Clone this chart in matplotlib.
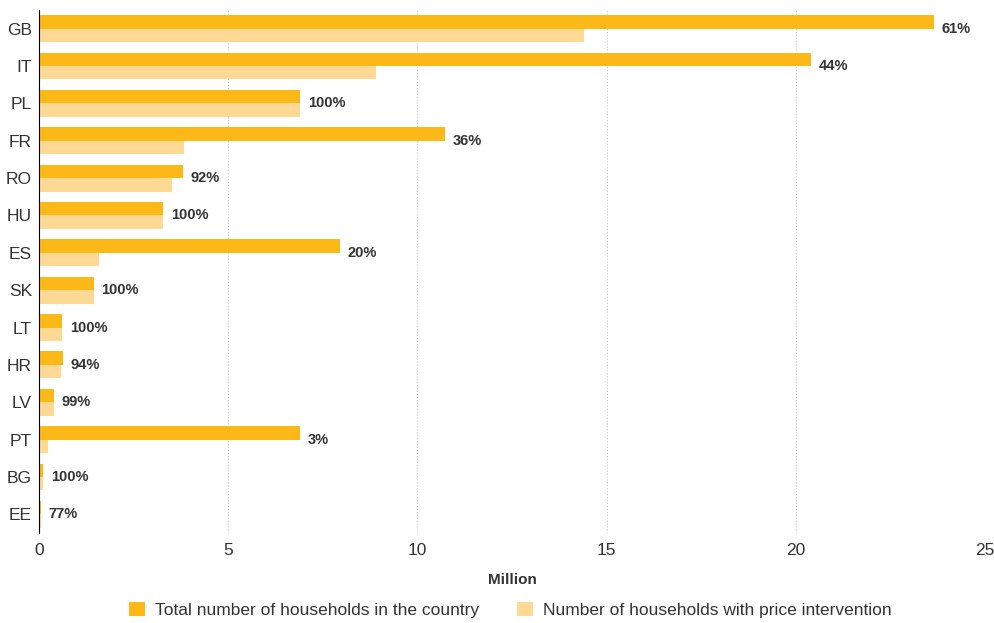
import matplotlib.pyplot as plt
import numpy as np

plt.rcParams['font.family'] = ['Liberation Sans Narrow', 'Liberation Sans', 'DejaVu Sans']

COUNTRIES = ["GB", "IT", "PL", "FR", "RO", "HU", "ES", "SK", "LT", "HR", "LV", "PT", "BG", "EE"]
TOTAL = [23.65, 20.4, 6.9, 10.73, 3.81, 3.28, 7.95, 1.45, 0.61, 0.63, 0.40, 6.9, 0.11, 0.05]
INTERVENTION = [14.4, 8.91, 6.9, 3.83, 3.51, 3.28, 1.59, 1.45, 0.61, 0.59, 0.40, 0.24, 0.11, 0.04]
SHARE = ["61%", "44%", "100%", "36%", "92%", "100%", "20%", "100%", "100%", "94%", "99%", "3%", "100%", "77%"]

C_TOTAL = "#fbb817"
C_INTER = "#fdd995"


def main():
    fig = plt.figure(figsize=(9.95, 6.23), dpi=100)
    ax = fig.add_axes([39 / 995, 1 - 533 / 623, 946 / 995, 523 / 623])

    y = np.arange(len(COUNTRIES))
    h = 0.36
    ax.barh(y - h / 2, TOTAL, height=h, color=C_TOTAL, label="Total number of households in the country", zorder=3)
    ax.barh(y + h / 2, INTERVENTION, height=h, color=C_INTER, label="Number of households with price intervention", zorder=3)

    for i, (v, s) in enumerate(zip(TOTAL, SHARE)):
        ax.text(v + 0.2, i, s, va="center", ha="left", fontsize=10.5, fontweight="bold", color="#333333")

    ax.set_ylim(len(COUNTRIES) - 0.5, -0.5)
    ax.set_xlim(0, 25)
    ax.set_yticks(y)
    ax.set_yticklabels(COUNTRIES, fontsize=12.5, color="#333333")
    ax.set_xticks([0, 5, 10, 15, 20, 25])
    ax.tick_params(axis="x", length=0, labelsize=12.5, labelcolor="#333333", pad=7)
    ax.tick_params(axis="y", length=0, pad=5)
    ax.grid(axis="x", linestyle=":", color="#c8c8c8", linewidth=0.8, zorder=0)
    for side in ["top", "right", "bottom"]:
        ax.spines[side].set_visible(False)
    ax.spines["left"].set_color("black")
    ax.spines["left"].set_zorder(4)
    ax.set_xlabel("Million", fontsize=11, fontweight="bold", color="#333333", labelpad=11)

    fig.legend(loc="center", bbox_to_anchor=(0.513, 1 - 610 / 623), ncol=2, frameon=False,
               fontsize=12.5, handlelength=0.9, handleheight=0.9, columnspacing=2.2, handletextpad=0.6,
               labelcolor="#333333")

    fig.savefig("out.png", dpi=100)


if __name__ == "__main__":
    main()
